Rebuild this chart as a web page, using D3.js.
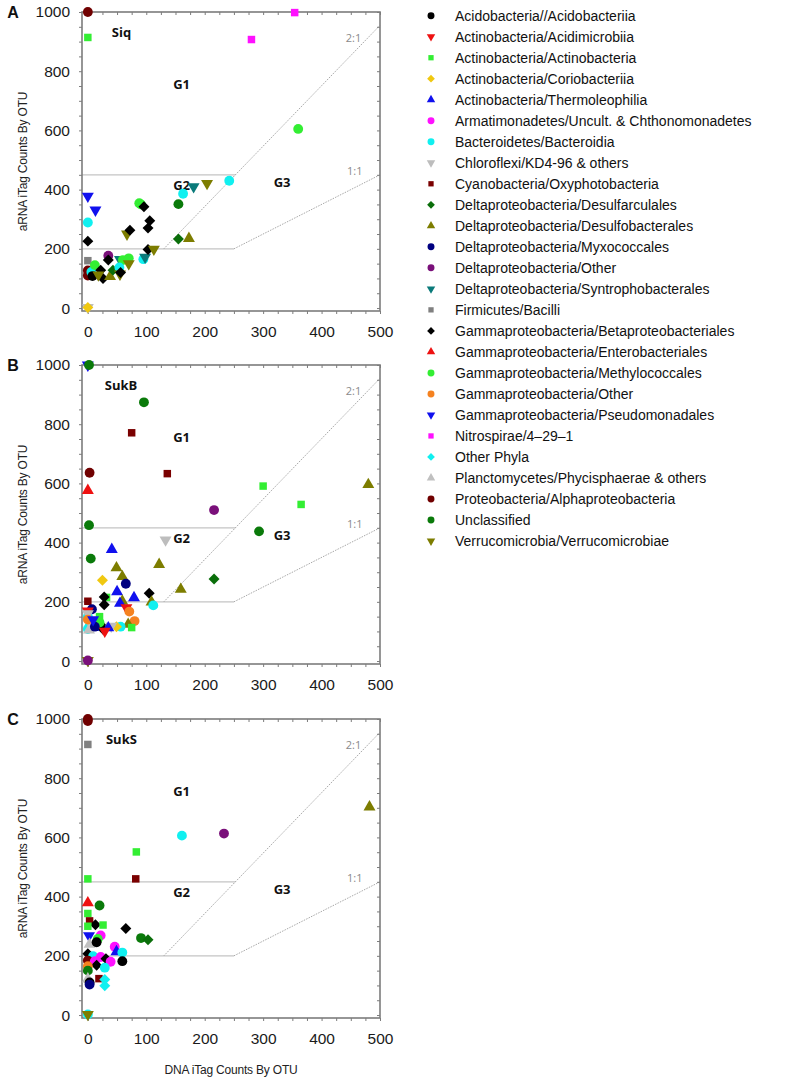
<!DOCTYPE html>
<html>
<head>
<meta charset="utf-8">
<script src="https://cdn.jsdelivr.net/npm/d3@7"></script>
<style>
  body { margin: 0; background: #fff; }
  svg { display: block; font-family: "Liberation Sans", Arial, sans-serif; }
</style>
</head>
<body>
<div id="wrapper"></div>
<script>
// Taxon groups, legend order
const groupKeys = ["acido", "acidimi", "actino", "corio", "thermo", "armati", "bactero", "chloro",
    "cyano", "desulfarc", "desulfob", "myxo", "deltaOther", "syntro", "bacilli", "betaprot",
    "entero", "methylo", "gammaOther", "pseudo", "nitro", "otherPhyla", "plancto", "alpha",
    "unclass", "verruco"];
const groupLabels = [
    "Acidobacteria//Acidobacteriia",
    "Actinobacteria/Acidimicrobiia",
    "Actinobacteria/Actinobacteria",
    "Actinobacteria/Coriobacteriia",
    "Actinobacteria/Thermoleophilia",
    "Armatimonadetes/Uncult. & Chthonomonadetes",
    "Bacteroidetes/Bacteroidia",
    "Chloroflexi/KD4-96 & others",
    "Cyanobacteria/Oxyphotobacteria",
    "Deltaproteobacteria/Desulfarculales",
    "Deltaproteobacteria/Desulfobacterales",
    "Deltaproteobacteria/Myxococcales",
    "Deltaproteobacteria/Other",
    "Deltaproteobacteria/Syntrophobacterales",
    "Firmicutes/Bacilli",
    "Gammaproteobacteria/Betaproteobacteriales",
    "Gammaproteobacteria/Enterobacteriales",
    "Gammaproteobacteria/Methylococcales",
    "Gammaproteobacteria/Other",
    "Gammaproteobacteria/Pseudomonadales",
    "Nitrospirae/4\u201329\u20131",
    "Other Phyla",
    "Planctomycetes/Phycisphaerae & others",
    "Proteobacteria/Alphaproteobacteria",
    "Unclassified",
    "Verrucomicrobia/Verrucomicrobiae"
];
const groupShapes = ["circle", "down", "square", "diamond", "up", "circle", "circle", "down",
    "square", "diamond", "up", "circle", "circle", "down", "square", "diamond",
    "up", "circle", "circle", "down", "square", "diamond", "up", "circle",
    "circle", "down"];
const groupColors = ["#000000", "#ee1111", "#33ee33", "#f0c810", "#1010ee", "#ff10ff", "#10f0f0", "#bdbdbd",
    "#7a0000", "#0a6e0a", "#7d7d00", "#000080", "#7a107a", "#0a7a7a", "#808080", "#000000",
    "#ee1111", "#33ee33", "#f58220", "#1010ee", "#ff10ff", "#10f0f0", "#c0c0c0", "#700000",
    "#0a7a0a", "#7d7d00"];

// Panel names
const panelLetters = ["A", "B", "C"];
const panelNames = ["Siq", "SukB", "SukS"];

// Points per panel: [group, DNA iTag counts, aRNA iTag counts]
const siqPoints = [
    ["alpha", 0, 1000], ["actino", 0, 914], ["nitro", 280, 907], ["nitro", 354, 998],
    ["methylo", 360, 605], ["pseudo", 0, 378], ["pseudo", 13, 331], ["bactero", 0, 289],
    ["betaprot", 0, 226], ["bacilli", 0, 160], ["alpha", 0, 127], ["alpha", 0, 110],
    ["bactero", 6, 122], ["methylo", 12, 145], ["acido", 8, 108], ["betaprot", 22, 128],
    ["betaprot", 26, 100], ["verruco", 18, 112], ["desulfob", 38, 106], ["deltaOther", 35, 177],
    ["betaprot", 35, 162], ["desulfarc", 43, 128], ["syntro", 55, 164], ["methylo", 60, 162],
    ["bactero", 54, 137], ["verruco", 55, 115], ["betaprot", 56, 120], ["methylo", 70, 168],
    ["verruco", 70, 150], ["bactero", 95, 165], ["syntro", 98, 172], ["betaprot", 103, 198],
    ["verruco", 113, 199], ["verruco", 67, 250], ["betaprot", 72, 263], ["methylo", 88, 354],
    ["methylo", 91, 350], ["betaprot", 96, 342], ["betaprot", 106, 295], ["betaprot", 103, 270],
    ["bactero", 163, 386], ["unclass", 155, 351], ["desulfarc", 155, 233], ["desulfob", 173, 235],
    ["syntro", 181, 410], ["verruco", 204, 421], ["bactero", 242, 430], ["chloro", 0, 2],
    ["corio", 0, 2]
];
const sukBPoints = [
    ["pseudo", 0, 1000], ["unclass", 2, 1000], ["unclass", 96, 874], ["cyano", 75, 771],
    ["cyano", 136, 633], ["alpha", 3, 636], ["entero", 0, 576], ["unclass", 2, 459],
    ["deltaOther", 216, 510], ["chloro", 133, 409], ["unclass", 5, 346], ["thermo", 41, 377],
    ["corio", 25, 273], ["desulfob", 49, 315], ["desulfob", 59, 285], ["myxo", 65, 261],
    ["desulfob", 122, 326], ["desulfob", 159, 242], ["thermo", 50, 234], ["betaprot", 105, 229],
    ["thermo", 79, 214], ["actino", 32, 215], ["betaprot", 28, 216], ["betaprot", 28, 190],
    ["cyano", 0, 202], ["desulfob", 59, 202], ["thermo", 55, 195], ["desulfob", 109, 199],
    ["bactero", 112, 188], ["acidimi", 66, 180], ["gammaOther", 71, 167], ["gammaOther", 80, 135],
    ["desulfob", 69, 124], ["actino", 75, 113], ["bactero", 56, 116], ["corio", 49, 116],
    ["chloro", 40, 118], ["betaprot", 22, 122], ["betaprot", 26, 107], ["thermo", 9, 113],
    ["thermo", 35, 112], ["myxo", 7, 175], ["acidimi", 0, 169], ["bactero", 0, 150],
    ["bactero", 3, 118], ["bactero", 0, 108], ["chloro", 0, 160], ["chloro", 5, 125],
    ["plancto", 2, 105], ["gammaOther", 0, 140], ["actino", 20, 150], ["methylo", 20, 130],
    ["myxo", 12, 116], ["acidimi", 29, 101], ["pseudo", 9, 140], ["actino", 300, 591],
    ["actino", 365, 529], ["desulfob", 480, 596], ["unclass", 293, 438], ["desulfarc", 216, 277],
    ["verruco", 0, 2], ["deltaOther", 0, 2]
];
const sukSPoints = [
    ["alpha", 0, 1000], ["alpha", 0, 993], ["bacilli", 0, 914], ["bactero", 161, 606],
    ["deltaOther", 233, 613], ["actino", 83, 551], ["cyano", 82, 460], ["actino", 0, 460],
    ["desulfob", 482, 703], ["entero", 0, 379], ["unclass", 20, 370], ["actino", 0, 343],
    ["cyano", 3, 318], ["betaprot", 13, 305], ["actino", 26, 304], ["actino", 0, 300],
    ["betaprot", 65, 292], ["pseudo", 2, 268], ["armati", 22, 269], ["methylo", 17, 257],
    ["unclass", 91, 260], ["desulfarc", 103, 254], ["plancto", 3, 239], ["acido", 15, 246],
    ["armati", 46, 231], ["thermo", 49, 214], ["bactero", 59, 211], ["betaprot", 0, 207],
    ["bactero", 9, 199], ["armati", 22, 196], ["betaprot", 31, 190], ["armati", 39, 180],
    ["acido", 59, 182], ["alpha", 0, 184], ["armati", 12, 182], ["betaprot", 15, 168],
    ["bactero", 29, 160], ["gammaOther", 0, 165], ["unclass", 0, 150], ["plancto", 0, 122],
    ["cyano", 19, 123], ["otherPhyla", 29, 120], ["acido", 3, 110], ["myxo", 3, 103],
    ["otherPhyla", 29, 99], ["bactero", 0, 2], ["verruco", 0, 2]
];
const panelPoints = [siqPoints, sukBPoints, sukSPoints];

// Constants
const WIDTH = 789;
const HEIGHT = 1083;
const PANEL_TOPS = [12, 365, 719];
const PLOT = { left: 82, right: 380, height: 299 };
const FRAME_COLOR = "#7c7c7c";

const shapeOf = key => groupShapes[groupKeys.indexOf(key)];
const colorOf = key => groupColors[groupKeys.indexOf(key)];

function symbolPath(shape, scale) {
    const type = shape === "circle" ? d3.symbolCircle
        : (shape === "square" || shape === "diamond") ? d3.symbolSquare
        : d3.symbolTriangle;
    const area = { circle: 76, square: 56, diamond: 60, up: 62, down: 62 }[shape] * scale;
    return d3.symbol().type(type).size(area)();
}
function symbolRotate(shape) {
    return shape === "diamond" ? 45 : shape === "down" ? 180 : 0;
}

const svg = d3.select("#wrapper").append("svg")
    .attr("width", WIDTH)
    .attr("height", HEIGHT);
svg.append("rect").attr("width", WIDTH).attr("height", HEIGHT).attr("fill", "#fff");

const xScale = d3.scaleLinear().domain([-10, 500]).range([PLOT.left, PLOT.right]);

PANEL_TOPS.forEach((top, i) => {
    const yScale = d3.scaleLinear().domain([-10, 1000]).range([top + PLOT.height, top]);
    const g = svg.append("g");
    const bottom = top + PLOT.height;

    // reference lines
    const lineColor = "#c4c4c4";
    const twoOne = [[130, 200], [500, 955]];
    const crossX = twoOne[0][0] + (450 - 200) * (twoOne[1][0] - twoOne[0][0]) / (twoOne[1][1] - twoOne[0][1]);
    g.append("line")
        .attr("x1", xScale(-10)).attr("x2", xScale(crossX))
        .attr("y1", yScale(450)).attr("y2", yScale(450))
        .attr("stroke", lineColor).attr("stroke-width", 1.2);
    g.append("line")
        .attr("x1", xScale(-10)).attr("x2", xScale(250))
        .attr("y1", yScale(200)).attr("y2", yScale(200))
        .attr("stroke", lineColor).attr("stroke-width", 1.2);
    g.append("line")
        .attr("x1", xScale(twoOne[0][0])).attr("y1", yScale(twoOne[0][1]))
        .attr("x2", xScale(twoOne[1][0])).attr("y2", yScale(twoOne[1][1]))
        .attr("stroke", "#a8a8a8").attr("stroke-width", 1).attr("stroke-dasharray", "1.5,1.2");
    g.append("line")
        .attr("x1", xScale(250)).attr("y1", yScale(200))
        .attr("x2", xScale(500)).attr("y2", yScale(450))
        .attr("stroke", "#a8a8a8").attr("stroke-width", 1).attr("stroke-dasharray", "1.5,1.2");
    const ratioLabels = [["2:1", 468, 915], ["1:1", 470, 465]];
    g.selectAll(".ratio").data(ratioLabels).join("text")
        .attr("x", d => xScale(d[1])).attr("y", d => yScale(d[2]))
        .attr("text-anchor", "end").attr("dominant-baseline", "central")
        .attr("font-family", "'Open Sans', sans-serif")
        .attr("font-size", 11).attr("fill", "#8a8a8a")
        .text(d => d[0]);

    // region labels
    const regionLabels = [
        [panelNames[i], [41, 29, 31][i], 932],
        ["G1", 146, 757], ["G2", 146, 415], ["G3", 318, 425]
    ];
    g.selectAll(".region").data(regionLabels).join("text")
        .attr("x", d => xScale(d[1])).attr("y", d => yScale(d[2]))
        .attr("dominant-baseline", "central")
        .attr("font-family", "'Open Sans', sans-serif").attr("font-weight", "bold")
        .attr("font-size", 13).attr("fill", "#111")
        .text(d => d[0]);

    // axes
    const axisLeft = d3.axisLeft(yScale).tickValues(d3.range(0, 1001, 50))
        .tickSize(3).tickPadding(9)
        .tickFormat(d => d % 200 === 0 ? d : "");
    const axisRight = d3.axisRight(yScale).tickValues(d3.range(0, 1001, 50))
        .tickSize(-3).tickFormat("");
    const axisBottom = d3.axisBottom(xScale).tickValues(d3.range(0, 501, 25))
        .tickSize(3).tickPadding(12)
        .tickFormat(d => d % 100 === 0 ? d : "");
    const axisTop = d3.axisTop(xScale).tickValues(d3.range(0, 501, 25))
        .tickSize(-3).tickFormat("");

    [[axisLeft, `translate(${PLOT.left},0)`], [axisRight, `translate(${PLOT.right},0)`],
     [axisBottom, `translate(0,${bottom})`], [axisTop, `translate(0,${top})`]].forEach(([ax, tr]) => {
        const a = g.append("g").attr("transform", tr).call(ax);
        a.select(".domain").remove();
        a.selectAll("line").attr("stroke", FRAME_COLOR).attr("stroke-width", 1);
        a.selectAll("text").attr("font-size", 15.5).attr("fill", "#1a1a1a")
            .attr("font-family", "'Liberation Sans', Arial, sans-serif");
    });

    g.append("rect")
        .attr("x", PLOT.left).attr("y", top)
        .attr("width", PLOT.right - PLOT.left).attr("height", PLOT.height)
        .attr("fill", "none").attr("stroke", FRAME_COLOR).attr("stroke-width", 1.6);

    // y title
    g.append("text").text("aRNA iTag Counts By OTU")
        .attr("transform", `translate(27,${top + PLOT.height / 2}) rotate(-90)`)
        .attr("text-anchor", "middle")
        .attr("font-size", 12).attr("letter-spacing", -0.2).attr("fill", "#222");

    // panel letter
    g.append("text").text(panelLetters[i])
        .attr("x", 13).attr("y", top + 6)
        .attr("text-anchor", "middle")
        .attr("font-size", 16).attr("font-weight", "bold").attr("fill", "#111");

    // points
    g.selectAll(".pt").data(panelPoints[i]).join("path")
        .attr("d", d => symbolPath(shapeOf(d[0]), 1))
        .attr("transform", d => `translate(${xScale(d[1])},${yScale(d[2])}) rotate(${symbolRotate(shapeOf(d[0]))})`)
        .attr("fill", d => colorOf(d[0]));
});

// x title
svg.append("text").text("DNA iTag Counts By OTU")
    .attr("x", (PLOT.left + PLOT.right) / 2).attr("y", 1070)
    .attr("text-anchor", "middle").attr("dominant-baseline", "central")
    .attr("font-size", 12).attr("letter-spacing", -0.2).attr("fill", "#222");

// legend
const legendY = d3.scaleLinear().domain([0, groupKeys.length - 1]).range([15.7, 541]);
const legend = svg.append("g");
const rows = legend.selectAll(".row").data(groupKeys).join("g")
    .attr("transform", (d, i) => `translate(0,${legendY(i)})`);
rows.append("path")
    .attr("d", (d, i) => symbolPath(groupShapes[i], 0.5))
    .attr("transform", (d, i) => `translate(431,0) rotate(${symbolRotate(groupShapes[i])})`)
    .attr("fill", (d, i) => groupColors[i]);
rows.append("text")
    .attr("x", 455).attr("dominant-baseline", "central")
    .attr("font-size", 14).attr("fill", "#111")
    .text((d, i) => groupLabels[i]);
</script>
</body>
</html>
